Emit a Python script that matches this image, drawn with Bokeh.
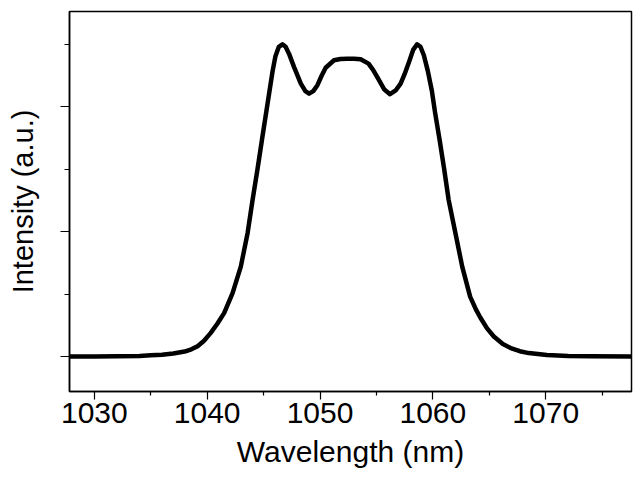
from bokeh.plotting import figure
from bokeh.models import Range1d, FixedTicker, CustomJSTickFormatter
from bokeh.embed import file_html
from bokeh.resources import INLINE

# Spectrum (wavelength in nm, intensity normalised)
wavelength = [1027.0, 1030.0, 1032.0, 1034.0, 1035.0, 1036.0, 1037.0, 1038.0, 1038.6,
              1039.15, 1039.7, 1040.3, 1040.9, 1041.5, 1042.25, 1042.98, 1043.58, 1044.02,
              1044.46, 1044.85, 1045.35, 1045.8, 1046.05, 1046.35, 1046.67, 1046.95, 1047.25,
              1047.7, 1048.3, 1048.7, 1049.03, 1049.4, 1049.77, 1050.15, 1050.5, 1051.24,
              1051.8, 1052.4, 1053.0, 1053.6, 1054.3, 1054.7, 1055.1, 1055.7, 1056.2,
              1056.7, 1057.14, 1057.5, 1057.9, 1058.25, 1058.6, 1058.9, 1059.2, 1059.55,
              1059.9, 1060.2, 1060.6, 1061.0, 1061.4, 1062.0, 1062.6, 1063.3, 1063.8,
              1064.2, 1064.8, 1065.4, 1066.2, 1066.9, 1067.7, 1068.5, 1070.1, 1072.0,
              1074.0, 1078.0]
intensity = [0.0, 0.0, 0.001, 0.002, 0.004, 0.006, 0.010, 0.016, 0.023,
             0.033, 0.050, 0.075, 0.105, 0.139, 0.203, 0.288, 0.395, 0.501,
             0.600, 0.693, 0.810, 0.915, 0.962, 0.992, 1.000, 0.992, 0.970,
             0.927, 0.874, 0.850, 0.842, 0.850, 0.869, 0.900, 0.925, 0.949,
             0.953, 0.954, 0.954, 0.952, 0.938, 0.918, 0.893, 0.855, 0.840,
             0.852, 0.874, 0.905, 0.945, 0.982, 1.000, 0.992, 0.965, 0.915,
             0.853, 0.780, 0.693, 0.600, 0.501, 0.395, 0.288, 0.192, 0.152,
             0.125, 0.090, 0.064, 0.040, 0.027, 0.017, 0.011, 0.005, 0.002,
             0.001, 0.0]

x_major = [1030, 1040, 1050, 1060, 1070]
x_minor = [1035, 1045, 1055, 1065, 1075]
y_major = [0.0, 0.4, 0.8]
y_minor = [0.2, 0.6, 1.0]

FONT = "Liberation Sans"

p = figure(frame_width=562, frame_height=380, output_backend="svg", toolbar_location=None,
           x_range=Range1d(1027.8, 1077.6), y_range=Range1d(-0.112, 1.105),
           min_border_left=69, min_border_right=4, min_border_top=11, min_border_bottom=70)

p.line(wavelength, intensity, line_color="black", line_width=4.5, line_join="round")

p.grid.visible = False
p.background_fill_color = "white"
p.border_fill_color = "white"
p.outline_line_color = "black"
p.outline_line_width = 1.5

xa = p.xaxis[0]
xa.ticker = FixedTicker(ticks=x_major, minor_ticks=x_minor)
xa.axis_label = "Wavelength (nm)"
xa.axis_label_text_font = FONT
xa.axis_label_text_font_size = "30px"
xa.axis_label_text_font_style = "normal"
xa.axis_label_text_color = "black"
xa.axis_label_standoff = 9
xa.major_label_text_font = FONT
xa.major_label_text_font_size = "30px"
xa.major_label_text_color = "black"
xa.major_label_standoff = 3
xa.major_tick_out = 8
xa.major_tick_in = 0
xa.minor_tick_out = 4
xa.minor_tick_in = 0
xa.axis_line_width = 1.5
xa.major_tick_line_width = 1.2
xa.minor_tick_line_width = 1.2

ya = p.yaxis[0]
ya.ticker = FixedTicker(ticks=y_major, minor_ticks=y_minor)
ya.formatter = CustomJSTickFormatter(code="return '';")
ya.axis_label = "Intensity (a.u.)"
ya.axis_label_text_font = FONT
ya.axis_label_text_font_size = "29px"
ya.axis_label_text_font_style = "normal"
ya.axis_label_text_color = "black"
ya.axis_label_standoff = 22
ya.major_label_text_color = None
ya.major_label_standoff = 0
ya.major_tick_out = 9
ya.major_tick_in = 0
ya.minor_tick_out = 5
ya.minor_tick_in = 0
ya.axis_line_width = 1.5
ya.major_tick_line_width = 1.2
ya.minor_tick_line_width = 1.2

open("out.html", "w").write(file_html(p, INLINE))
